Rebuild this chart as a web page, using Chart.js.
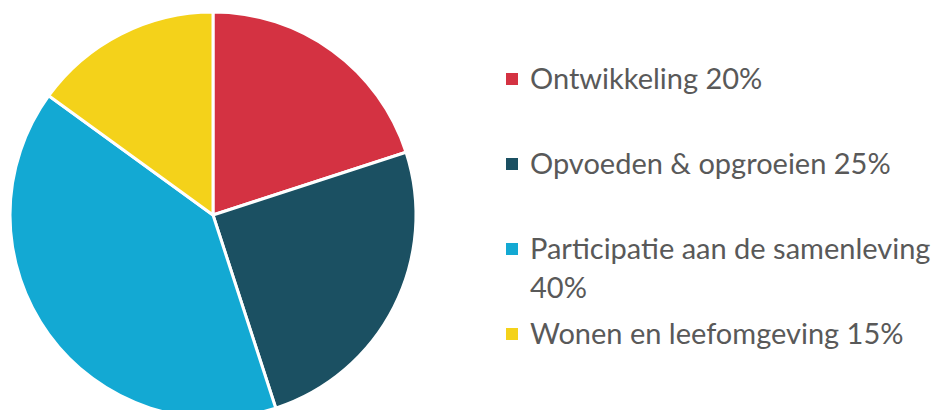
<!DOCTYPE html>
<html>
<head>
<meta charset="utf-8">
<script src="https://cdn.jsdelivr.net/npm/chart.js@4"></script>
<style>
    html, body { margin: 0; padding: 0; background: #fff; }
    body { width: 946px; height: 410px; overflow: hidden; position: relative; font-family: Lato, "Open Sans", sans-serif; }
    #pieWrap { position: absolute; left: 0; top: 0; width: 426px; height: 430px; }
    #legend { position: absolute; left: 505px; top: 0; width: 441px; color: #595959; font-size: 29px; }
    .item { position: absolute; left: 0; width: 441px; display: flex; align-items: flex-start; line-height: 39px; }
    .box { flex: none; width: 12px; height: 12px; margin: 15px 12px 0 1px; }
</style>
</head>
<body>
<div id="pieWrap"><canvas id="pieChart" width="426" height="430"></canvas></div>
<div id="legend"></div>
<script>
/*global document, Chart*/
(function () {

    'use strict';

    // data
    var categories = ["Ontwikkeling", "Opvoeden & opgroeien", "Participatie aan de samenleving", "Wonen en leefomgeving"];
    var shares = [20, 25, 40, 15];
    var sliceColors = ["#D43242", "#1B5062", "#13A9D3", "#F4D21A"];
    var legendTops = [58, 143, 228, 313];

    // ------------------------------------------------------- //
    // Pie Chart
    // ------------------------------------------------------ //
    var PIECHART = document.getElementById('pieChart');
    var myPieChart = new Chart(PIECHART, {
        type: 'pie',
        data: {
            labels: categories,
            datasets: [
                {
                    data: shares,
                    backgroundColor: sliceColors,
                    borderColor: "#ffffff",
                    borderWidth: 3
                }
            ]
        },
        options: {
            responsive: false,
            animation: false,
            radius: 203,
            layout: { padding: 0 },
            plugins: {
                legend: { display: false },
                tooltip: { enabled: false }
            }
        }
    });

    // ------------------------------------------------------- //
    // Legend
    // ------------------------------------------------------ //
    var legend = document.getElementById('legend');
    categories.forEach(function (name, i) {
        var item = document.createElement('div');
        item.className = 'item';
        item.style.top = legendTops[i] + 'px';
        var box = document.createElement('span');
        box.className = 'box';
        box.style.background = sliceColors[i];
        var txt = document.createElement('span');
        txt.textContent = name + ' ' + shares[i] + '%';
        item.appendChild(box);
        item.appendChild(txt);
        legend.appendChild(item);
    });

}());
</script>
</body>
</html>
